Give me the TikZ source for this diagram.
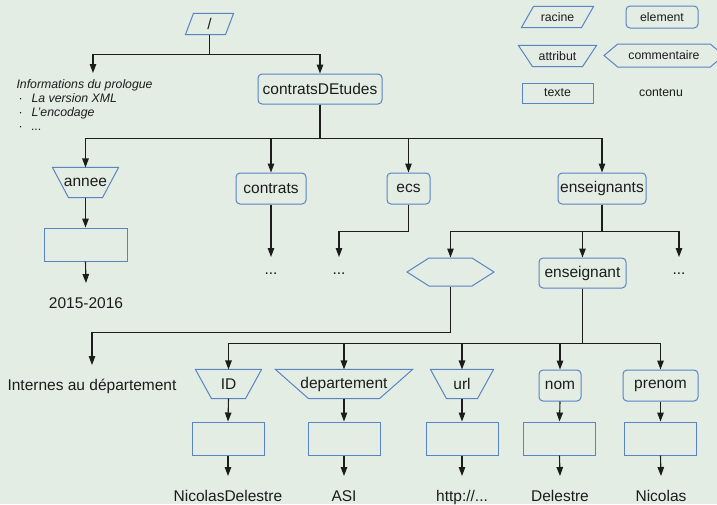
\documentclass[tikz,border=0pt]{standalone}
\usepackage{fontspec}
\setmainfont{Liberation Sans}
\usetikzlibrary{shapes.symbols,arrows.meta}
\definecolor{fond}{RGB}{227,237,228}
\definecolor{bord}{RGB}{88,132,196}
\definecolor{trait}{RGB}{28,28,28}
\newcommand{\puce}{\makebox[15pt][l]{\upshape\,\textperiodcentered}}
\tikzset{elem/.style = {draw=bord, line width=1pt, rounded corners=4pt, inner sep=0pt, minimum height=31pt},
         attr/.style = {inner sep=0pt, minimum height=28pt, append after command={\pgfextra{
                        \draw[bord, line width=1pt] (\tikzlastnode.north west) -- (\tikzlastnode.north east)
                          -- ([xshift=-#1]\tikzlastnode.south east) -- ([xshift=#1]\tikzlastnode.south west) -- cycle;}}},
         racine/.style = {inner sep=0pt, minimum height=20pt, append after command={\pgfextra{
                        \draw[bord, line width=1pt] (\tikzlastnode.south west) -- ([xshift=#1]\tikzlastnode.north west)
                          -- (\tikzlastnode.north east) -- ([xshift=-#1]\tikzlastnode.south east) -- cycle;}}},
         comm/.style = {draw=bord, line width=1pt, signal, signal to=east and west,
                        signal pointer angle=65, inner sep=0pt},
         texte/.style = {draw=bord, line width=1pt, inner sep=0pt, minimum width=72pt, minimum height=33pt},
         val/.style = {inner sep=0pt, text height=11pt, text depth=3pt, outer ysep=14pt},
         suite/.style = {inner sep=0pt, text height=11pt, text depth=3pt, outer ysep=6pt},
         legende/.style = {font=\fontsize{12.3}{14}\selectfont},
         info/.style = {font=\fontsize{12.3}{14}\selectfont\itshape, align=left, inner sep=0pt}}

\begin{document}
\begin{tikzpicture}[x=1pt, y=-1pt, >={Triangle[length=9pt, width=6.5pt]}, line width=1.1pt,
                    color=trait, font=\fontsize{15.5}{18}\selectfont]
    \clip (0,0) rectangle (717,504);
    \fill[fond] (0,0) rectangle (717,504);
    % legende
    \node[racine=12pt, legende, minimum width=71pt] (lracine) at (557.5,17) {racine};
    \node[elem, legende, minimum width=72pt, minimum height=22pt] (lelem) at (662,17) {element};
    \node[attr=14pt, legende, minimum width=77pt, minimum height=20pt] (lattr) at (557.5,56) {attribut};
    \node[comm, legende, minimum width=120pt, minimum height=23pt, signal pointer angle=80] (lcomm) at (664,55.5) {commentaire};
    \node[texte, legende, minimum width=71pt, minimum height=20pt] (ltexte) at (557.5,93) {texte};
    \node[legende] (lcontenu) at (661,93) {contenu};
    % arbre
    \node[racine=8pt, minimum width=47pt] (root) at (209.5,24) {/};
    \coordinate (prolog) at (93,73);
    \node[info, anchor=north west] (infos) at (16,79)
        {Informations du prologue\\ \puce La version XML\\ \puce L'encodage\\ \puce ...};
    \node[elem, minimum width=124pt, minimum height=30pt] (cde) at (320,89) {contratsDEtudes};
    \node[attr=16pt, minimum width=65pt, minimum height=29pt] (annee) at (85.5,182.5) {annee};
    \node[texte, minimum width=83pt] (tannee) at (85.5,244.5) {};
    \node[val] (vannee) at (86,304) {2015-2016};
    \node[elem, minimum width=70pt] (contrats) at (271,188.5) {contrats};
    \node[suite] (scontrats) at (271,270) {...};
    \node[elem, minimum width=43pt] (ecs) at (408.5,188.5) {ecs};
    \node[suite] (secs) at (339,270) {...};
    \node[elem, minimum width=88pt] (ens) at (602,188.5) {enseignants};
    \node[comm, minimum width=87pt, minimum height=28pt] (com) at (450.5,272) {};
    \node[elem, minimum width=87pt, minimum height=30pt] (ensg) at (582.5,273) {enseignant};
    \node[suite] (sens) at (679,270) {...};
    \node[val] (internes) at (92,386) {Internes au département};
    \node[attr=16pt, minimum width=65pt] (id) at (228.5,384) {ID};
    \node[attr=33pt, minimum width=136pt] (dept) at (344,384) {departement};
    \node[attr=16pt, minimum width=62pt] (url) at (462,384) {url};
    \node[elem, minimum width=42pt] (nom) at (560,385.5) {nom};
    \node[elem, minimum width=75pt] (prenom) at (660.5,385.5) {prenom};
    \node[texte] (tid) at (228,438.5) {};
    \node[texte] (tdept) at (344,438.5) {};
    \node[texte] (turl) at (462,438.5) {};
    \node[texte] (tnom) at (559.5,438.5) {};
    \node[texte] (tprenom) at (660.5,438.5) {};
    \node[val] (vid) at (228,497) {NicolasDelestre};
    \node[val] (vdept) at (344,497) {ASI};
    \node[val] (vurl) at (462,497) {http://...};
    \node[val] (vnom) at (560,497) {Delestre};
    \node[val] (vprenom) at (661,497) {Nicolas};
    % liens
    \draw[->] (root.south) -- ++(0,20) -| (prolog);
    \draw[->] (root.south) -- ++(0,20) -| (cde.north);
    \draw[->] (cde.south) -- ++(0,34) -| (annee.north);
    \draw[->] (cde.south) -- ++(0,34) -| (contrats.north);
    \draw[->] (cde.south) -- ++(0,34) -| (ecs.north);
    \draw[->] (cde.south) -- ++(0,34) -| (ens.north);
    \draw[->] (annee.south) -- (tannee.north);
    \draw[->] (tannee.south) -- (vannee.north);
    \draw[->] (contrats.south) -- (scontrats.north);
    \draw[->] (ecs.south) -- ++(0,27) -| (secs.north);
    \draw[->] (ens.south) -- ++(0,27) -| (com.north);
    \draw[->] (ens.south) -- ++(0,27) -| (ensg.north);
    \draw[->] (ens.south) -- ++(0,27) -| (sens.north);
    \draw[->] (com.south) -- ++(0,46) -| (internes.north);
    \draw[->] (ensg.south) -- ++(0,55) -| (id.north);
    \draw[->] (ensg.south) -- ++(0,55) -| (dept.north);
    \draw[->] (ensg.south) -- ++(0,55) -| (url.north);
    \draw[->] (ensg.south) -- ++(0,55) -| (nom.north);
    \draw[->] (ensg.south) -- ++(0,55) -| (prenom.north);
    \draw[->] (id.south) -- (tid.north);
    \draw[->] (dept.south) -- (tdept.north);
    \draw[->] (url.south) -- (turl.north);
    \draw[->] (nom.south) -- (tnom.north);
    \draw[->] (prenom.south) -- (tprenom.north);
    \draw[->] (tid.south) -- (vid.north);
    \draw[->] (tdept.south) -- (vdept.north);
    \draw[->] (turl.south) -- (vurl.north);
    \draw[->] (tnom.south) -- (vnom.north);
    \draw[->] (tprenom.south) -- (vprenom.north);
\end{tikzpicture}
\end{document}
